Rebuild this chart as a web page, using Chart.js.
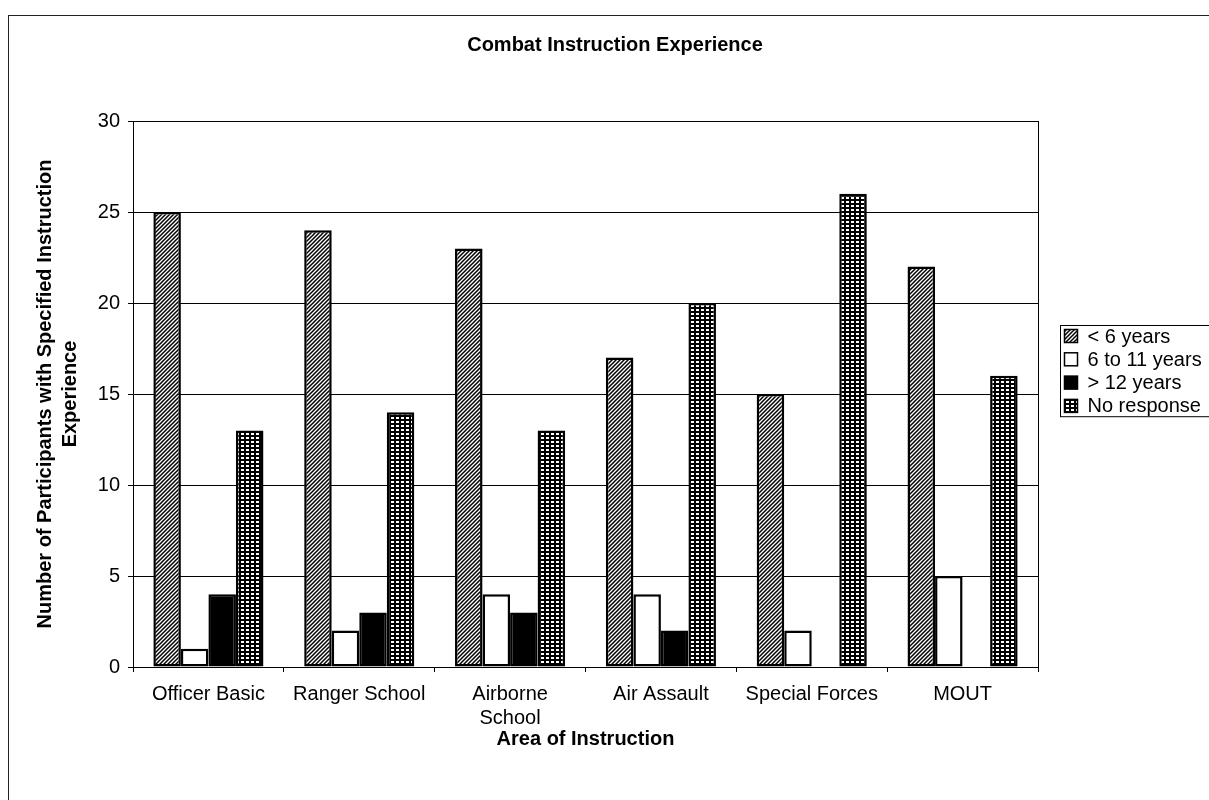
<!DOCTYPE html>
<html>
<head>
<meta charset="utf-8">
<title>Combat Instruction Experience</title>
<script src="https://cdn.jsdelivr.net/npm/chart.js@4.4.1/dist/chart.umd.min.js"></script>
<style>
  html, body { margin: 0; padding: 0; background: #fff; }
  #wrap { width: 1209px; height: 800px; position: relative; }
</style>
</head>
<body>
<div id="wrap"><canvas id="chart"></canvas></div>
<script>
"use strict";

// Values
const CATEGORIES = ["Officer Basic", "Ranger School", ["Airborne", "School"], "Air Assault", "Special Forces", "MOUT"];
const SERIES_LABELS = ["< 6 years", "6 to 11 years", "> 12 years", "No response"];
const UNDER_6 = [25, 24, 23, 17, 15, 22];
const SIX_TO_11 = [1, 2, 4, 4, 2, 5];
const OVER_12 = [4, 3, 3, 2, 0, 0];
const NO_RESPONSE = [13, 14, 13, 20, 26, 16];
const Y_MIN = 0;
const Y_MAX = 30;
const Y_STEP = 5;

const FONT = "'Liberation Sans', Arial, sans-serif";

const canvas = document.getElementById("chart");
const ctx = canvas.getContext("2d");

// black "/" hatching on white
function hatchPattern() {
  const c = document.createElement("canvas");
  c.width = 4; c.height = 4;
  const g = c.getContext("2d");
  g.fillStyle = "#fff";
  g.fillRect(0, 0, 4, 4);
  g.strokeStyle = "#000";
  g.lineWidth = 1.5;
  g.beginPath();
  g.moveTo(-1, 5); g.lineTo(5, -1);
  g.moveTo(-1, 1); g.lineTo(1, -1);
  g.moveTo(3, 5); g.lineTo(5, 3);
  g.stroke();
  return ctx.createPattern(c, "repeat");
}

// black ground with small white dashes (the "no response" fill)
function checkPattern() {
  const c = document.createElement("canvas");
  c.width = 5; c.height = 4;
  const g = c.getContext("2d");
  g.fillStyle = "#000";
  g.fillRect(0, 0, 5, 4);
  g.fillStyle = "#fff";
  g.fillRect(1, 1, 3, 2);
  return ctx.createPattern(c, "repeat");
}

const FILLS = [hatchPattern(), "#fff", "#000", checkPattern()];
const SERIES = [UNDER_6, SIX_TO_11, OVER_12, NO_RESPONSE];

// page frame + right edge of the plot
const framePlugin = {
  id: "frame",
  beforeDraw(chart) {
    const c = chart.ctx;
    c.save();
    c.fillStyle = "#fff";
    c.fillRect(0, 0, chart.width, chart.height);
    c.strokeStyle = "#222";
    c.lineWidth = 1;
    c.strokeRect(8.5, 15.5, chart.width + 20, chart.height + 20);
    c.restore();
  },
  afterDatasetsDraw(chart) {
    const { right, top, bottom } = chart.chartArea;
    const c = chart.ctx;
    c.save();
    c.strokeStyle = "#000";
    c.lineWidth = 1;
    c.beginPath();
    c.moveTo(Math.round(right) + 0.5, top);
    c.lineTo(Math.round(right) + 0.5, bottom);
    c.stroke();
    c.restore();
  },
};

// boxed legend to the right of the plot, like the original
const legendBox = {
  id: "legendBox",
  afterDraw(chart) {
    const c = chart.ctx;
    const x0 = Math.round(chart.chartArea.right) + 22.5;
    const y0 = 325.5;
    const rowH = 23.3;
    const sw = 13;
    c.save();
    c.strokeStyle = "#000";
    c.lineWidth = 1;
    c.strokeRect(x0, y0, 200, rowH * SERIES_LABELS.length - 2);
    c.font = `20px ${FONT}`;
    c.textBaseline = "middle";
    chart.data.datasets.forEach((ds, i) => {
      const cy = y0 + 10.5 + rowH * i;
      c.fillStyle = ds.backgroundColor;
      c.fillRect(x0 + 4, cy - sw / 2, sw, sw);
      c.lineWidth = 1.5;
      c.strokeRect(x0 + 4, cy - sw / 2, sw, sw);
      c.fillStyle = "#000";
      c.fillText(ds.label, x0 + 27, cy + 1);
    });
    c.restore();
  },
};

new Chart(ctx, {
  type: "bar",
  data: {
    labels: CATEGORIES,
    datasets: SERIES.map((values, i) => ({
      label: SERIES_LABELS[i],
      data: values,
      backgroundColor: FILLS[i],
      borderColor: "#000",
      borderWidth: 2.5,
      borderSkipped: false,
      categoryPercentage: 0.73,
      barPercentage: 1.0,
    })),
  },
  options: {
    responsive: true,
    maintainAspectRatio: false,
    animation: false,
    devicePixelRatio: 1,
    events: [],
    layout: { padding: { left: 21, right: 0, top: 0, bottom: 0 } },
    plugins: {
      legend: { display: false },
      tooltip: { enabled: false },
      title: {
        display: true,
        text: "Combat Instruction Experience",
        color: "#000",
        font: { family: FONT, size: 20, weight: "bold" },
        padding: { top: 33, bottom: 64 },
      },
    },
    scales: {
      x: {
        grid: { display: true, drawOnChartArea: false, drawTicks: true, tickLength: 5, color: "#000", offset: true },
        border: { display: true, color: "#000", width: 1 },
        ticks: { color: "#000", font: { family: FONT, size: 20 }, padding: 10, maxRotation: 0, autoSkip: false },
        title: {
          display: true,
          text: "Area of Instruction",
          color: "#000",
          font: { family: FONT, size: 20, weight: "bold" },
          padding: { top: 0, bottom: 49 },
        },
        afterFit(scale) { scale.height = 133; },
      },
      y: {
        min: Y_MIN,
        max: Y_MAX,
        grid: { color: "#000", lineWidth: 1, tickLength: 5, drawTicks: true },
        border: { display: true, color: "#000", width: 1 },
        ticks: { stepSize: Y_STEP, color: "#000", font: { family: FONT, size: 20 }, padding: 8 },
        title: {
          display: true,
          text: ["Number of Participants with Specified Instruction", "Experience"],
          color: "#000",
          font: { family: FONT, size: 20, weight: "bold", lineHeight: 1.25 },
          padding: { top: 12, bottom: 0 },
        },
        afterFit(scale) { scale.width = 112; },
      },
      // empty right-hand box that reserves room for the legend
      room: {
        type: "linear",
        position: "right",
        display: true,
        grid: { display: false },
        border: { display: false },
        ticks: { display: false },
        afterFit(scale) { scale.width = 171; },
      },
    },
  },
  plugins: [framePlugin, legendBox],
});
</script>
</body>
</html>
